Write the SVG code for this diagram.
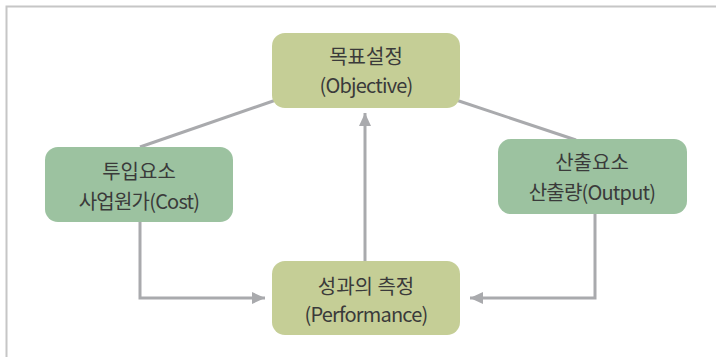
<svg xmlns="http://www.w3.org/2000/svg" width="716" height="357" viewBox="0 0 716 357">
  <style>
    .olive { fill: #c5ce96; }
    .green { fill: #9cc2a0; }
    .lbl { font-family: "Noto Sans CJK KR", "Liberation Sans", sans-serif; font-size: 20px; fill: #3a3a3a; text-anchor: middle; }
    .lat { letter-spacing: -0.8px; }
    .conn { stroke: #a9aaad; stroke-width: 3; fill: none; }
  </style>
  <defs>
    <marker id="arrow" markerUnits="userSpaceOnUse" markerWidth="14" markerHeight="14" viewBox="0 0 14 14" refX="13" refY="7" orient="auto">
      <path d="M0,1 L13,7 L0,13 Z" fill="#a9aaad"/>
    </marker>
  </defs>
  <rect width="716" height="357" fill="#ffffff"/>
  <path d="M6.5,357 V6.5 H716" stroke="#c6c6c6" stroke-width="2" fill="none"/>

  <g id="connectors">
    <line class="conn" x1="276" y1="100" x2="140" y2="147"/>
    <line class="conn" x1="456" y1="100" x2="576" y2="140"/>
    <line class="conn" x1="365" y1="261" x2="365" y2="113" marker-end="url(#arrow)"/>
    <polyline class="conn" points="140,222 140,298 265,298" marker-end="url(#arrow)"/>
    <polyline class="conn" points="595,213 595,298 470,298" marker-end="url(#arrow)"/>
  </g>

  <g id="objective">
    <rect class="olive" x="272" y="33" width="188" height="75" rx="13"/>
    <text class="lbl" x="366" y="64">목표설정</text>
    <text class="lbl lat" x="366" y="93">(Objective)</text>
  </g>
  <g id="input">
    <rect class="green" x="45" y="147" width="188" height="75" rx="13"/>
    <text class="lbl" x="139" y="179">투입요소</text>
    <text class="lbl lat" x="139" y="209">사업원가(Cost)</text>
  </g>
  <g id="output">
    <rect class="green" x="498" y="139" width="189" height="75" rx="13"/>
    <text class="lbl" x="592" y="170">산출요소</text>
    <text class="lbl lat" x="592" y="200">산출량(Output)</text>
  </g>
  <g id="performance">
    <rect class="olive" x="272" y="261" width="188" height="74" rx="13"/>
    <text class="lbl" x="366" y="294">성과의 측정</text>
    <text class="lbl lat" x="366" y="322">(Performance)</text>
  </g>
</svg>
